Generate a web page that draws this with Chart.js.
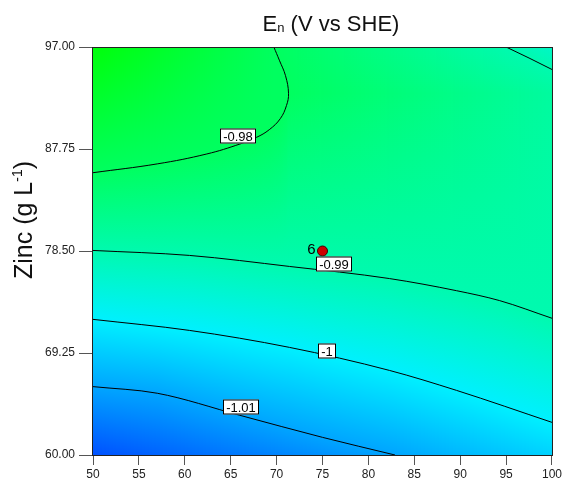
<!DOCTYPE html>
<html>
<head>
<meta charset="utf-8">
<script src="https://cdn.jsdelivr.net/npm/chart.js@4"></script>
<style>
    body { margin: 0; background: #fff; }
</style>
</head>
<body>
<canvas id="wykres" width="564" height="484"></canvas>
<script>
// Osie
const xTicks = [50, 55, 60, 65, 70, 75, 80, 85, 90, 95, 100];
const yTicks = [60.00, 69.25, 78.50, 87.75, 97.00];

// Linie konturowe
const c098x = [69.7, 70.3, 70.97, 71.3, 71.08, 70.4, 69.2, 67.8, 66.0, 62.4, 57.0, 50.0];
const c098y = [97.0, 95.8, 94.4, 92.8, 91.7, 90.5, 89.5, 88.8, 88.2, 87.3, 86.4, 85.6];
const c099x = [50.0, 60.5, 71.4, 82.3, 89.6, 94.3, 100.0];
const c099y = [78.55, 78.1, 77.1, 76.0, 74.9, 74.0, 72.4];
const c099bx = [95.0, 97.5, 100.0];
const c099by = [97.0, 96.0, 94.96];
const c100x = [50.0, 60.5, 71.4, 82.3, 89.6, 100.0];
const c100y = [72.3, 71.3, 69.76, 67.67, 65.86, 62.96];
const c101x = [50.0, 57.0, 66.0, 75.0, 82.9];
const c101y = [66.2, 65.6, 63.6, 61.6, 60.0];

// Etykiety konturow
const labelText = ['-0.98', '-0.99', '-1', '-1.01'];
const labelX = [65.8, 76.25, 75.5, 66.1];
const labelY = [88.93, 77.33, 69.44, 64.36];

// Punkt doswiadczalny
const designX = [75];
const designY = [78.5];
const designLabel = ['6'];

// Wartosci na krawedziach (do kolorowania tla)
const topEdgeX = [50, 69.7, 95, 100];
const topEdgeV = [-0.972, -0.98, -0.99, -0.993];
const bottomEdgeX = [50, 82.9, 100];
const bottomEdgeV = [-1.022, -1.01, -1.004];
const ridgeX = [71.3, 100];
const ridgeY = [92.8, 92.8];
const ridgeV = [-0.98, -0.988];

// Skala kolorow
const cmapV = [-1.025, -1.01, -1.0, -0.99, -0.98, -0.972];
const cmapRGB = [[0, 60, 255], [0, 165, 255], [0, 240, 255], [0, 250, 175], [0, 255, 95], [0, 255, 10]];

const kontury = [
    { level: -0.98, x: c098x, y: c098y },
    { level: -0.99, x: c099x, y: c099y },
    { level: -0.99, x: c099bx, y: c099by },
    { level: -1.00, x: c100x, y: c100y },
    { level: -1.01, x: c101x, y: c101y }
];

function interp(xs, vs, x) {
    if (x <= xs[0]) return vs[0];
    for (let i = 0; i < xs.length - 1; i++) {
        if (x <= xs[i + 1]) {
            const t = (x - xs[i]) / (xs[i + 1] - xs[i]);
            return vs[i] + t * (vs[i + 1] - vs[i]);
        }
    }
    return vs[vs.length - 1];
}

function colorOf(v) {
    let c;
    if (v <= cmapV[0]) c = cmapRGB[0];
    else if (v >= cmapV[cmapV.length - 1]) c = cmapRGB[cmapRGB.length - 1];
    else {
        for (let i = 0; i < cmapV.length - 1; i++) {
            if (v <= cmapV[i + 1]) {
                const t = (v - cmapV[i]) / (cmapV[i + 1] - cmapV[i]);
                c = cmapRGB[i].map((k, j) => Math.round(k + t * (cmapRGB[i + 1][j] - k)));
                break;
            }
        }
    }
    return `rgb(${c[0]},${c[1]},${c[2]})`;
}

function crossings(xs, ys, x) {
    const out = [];
    for (let i = 0; i < xs.length - 1; i++) {
        const x0 = xs[i], x1 = xs[i + 1];
        if (x0 !== x1 && x >= Math.min(x0, x1) && x <= Math.max(x0, x1)) {
            const t = (x - x0) / (x1 - x0);
            out.push(ys[i] + t * (ys[i + 1] - ys[i]));
        }
    }
    return out;
}

// Tlo - gradient w kazdej kolumnie, przejscia na liniach konturowych
const tloPlugin = {
    id: 'tlo',
    beforeDatasetsDraw(chart) {
        const { ctx, chartArea: a, scales: { x, y } } = chart;
        ctx.save();
        ctx.beginPath();
        ctx.rect(a.left, a.top, a.right - a.left, a.bottom - a.top);
        ctx.clip();
        for (let px = a.left; px < a.right; px++) {
            const xv = x.getValueForPixel(px + 0.5);
            const stops = [[97, interp(topEdgeX, topEdgeV, xv)], [60, interp(bottomEdgeX, bottomEdgeV, xv)]];
            kontury.forEach(k => crossings(k.x, k.y, xv).forEach(yy => stops.push([yy, k.level])));
            if (xv > ridgeX[0]) stops.push([interp(ridgeX, ridgeY, xv), interp(ridgeX, ridgeV, xv)]);
            stops.sort((p, q) => q[0] - p[0]);
            const g = ctx.createLinearGradient(0, a.top, 0, a.bottom);
            stops.forEach(([yy, v]) => {
                const off = Math.min(1, Math.max(0, (y.getPixelForValue(yy) - a.top) / (a.bottom - a.top)));
                g.addColorStop(off, colorOf(v));
            });
            ctx.fillStyle = g;
            ctx.fillRect(px, a.top, 1.5, a.bottom - a.top);
        }
        ctx.restore();
    }
};

// Etykiety konturow, ramka, tytuly
const opisyPlugin = {
    id: 'opisy',
    afterDatasetsDraw(chart) {
        const { ctx, scales: { x, y } } = chart;
        ctx.save();
        ctx.font = '13px Arial, "Liberation Sans"';
        ctx.textAlign = 'center';
        ctx.textBaseline = 'middle';
        labelText.forEach((t, i) => {
            const px = Math.round(x.getPixelForValue(labelX[i]));
            const py = Math.round(y.getPixelForValue(labelY[i]));
            const w = Math.round(ctx.measureText(t).width) + 6;
            const h = 15;
            ctx.fillStyle = '#fff';
            ctx.fillRect(px - w / 2, py - h / 2, w, h);
            ctx.strokeStyle = '#000';
            ctx.lineWidth = 1;
            ctx.strokeRect(px - w / 2 + 0.5, py - h / 2 + 0.5, w - 1, h - 1);
            ctx.fillStyle = '#000';
            ctx.fillText(t, px, py + 1);
        });
        ctx.font = '15px Arial, "Liberation Sans"';
        ctx.textAlign = 'right';
        designLabel.forEach((t, i) => {
            ctx.fillText(t, x.getPixelForValue(designX[i]) - 7, y.getPixelForValue(designY[i]) - 1);
        });
        ctx.restore();
    },
    afterDraw(chart) {
        const { ctx, chartArea: a } = chart;
        ctx.save();
        ctx.strokeStyle = '#222';
        ctx.lineWidth = 1;
        ctx.strokeRect(a.left - 0.5, a.top + 0.5, a.right - a.left + 1, a.bottom - a.top);

        // tytul: E z indeksem n
        ctx.fillStyle = '#111';
        ctx.textBaseline = 'alphabetic';
        ctx.textAlign = 'left';
        const f1 = '22px Arial, "Liberation Sans"', f2 = '13px Arial, "Liberation Sans"';
        ctx.font = f1; const wE = ctx.measureText('E').width;
        const reszta = ' (V vs SHE)'; const wR = ctx.measureText(reszta).width;
        ctx.font = f2; const wn = ctx.measureText('n').width;
        let tx = 331 - (wE + wn + wR) / 2;
        ctx.font = f1; ctx.fillText('E', tx, 31); tx += wE;
        ctx.font = f2; ctx.fillText('n', tx, 32); tx += wn;
        ctx.font = f1; ctx.fillText(reszta, tx, 31);

        // tytul osi Y
        ctx.translate(32, 220);
        ctx.rotate(-Math.PI / 2);
        const g1 = '25px Arial, "Liberation Sans"', g2 = '14px Arial, "Liberation Sans"';
        ctx.font = g1; const a1 = ctx.measureText('Zinc (g L').width, a3 = ctx.measureText(')').width;
        ctx.font = g2; const a2 = ctx.measureText('-1').width;
        let sx = -(a1 + a2 + a3) / 2;
        ctx.font = g1; ctx.fillText('Zinc (g L', sx, 0); sx += a1;
        ctx.font = g2; ctx.fillText('-1', sx, -10); sx += a2;
        ctx.font = g1; ctx.fillText(')', sx, 0);
        ctx.restore();
    }
};

const linia = (xs, ys, tryb) => ({
    data: xs.map((v, i) => ({ x: v, y: ys[i] })),
    showLine: true,
    borderColor: '#000',
    borderWidth: 1,
    pointRadius: 0,
    tension: 0.4,
    cubicInterpolationMode: tryb || 'default',
    fill: false
});

const ctx = document.getElementById('wykres').getContext('2d');
const chart = new Chart(ctx, {
    type: 'scatter',
    data: {
        datasets: [
            linia(c098x, c098y),
            linia(c099x, c099y, 'monotone'),
            linia(c099bx, c099by, 'monotone'),
            linia(c100x, c100y, 'monotone'),
            linia(c101x, c101y, 'monotone'),
            {
                data: designX.map((v, i) => ({ x: v, y: designY[i] })),
                pointRadius: 5,
                backgroundColor: '#cc0000',
                borderColor: '#400000',
                borderWidth: 1
            }
        ]
    },
    options: {
        responsive: false,
        animation: false,
        layout: { padding: { top: 47, right: 11, left: 0, bottom: 0 } },
        plugins: {
            legend: { display: false },
            tooltip: { enabled: false },
            title: { display: false }
        },
        scales: {
            x: {
                type: 'linear',
                min: 50,
                max: 100,
                afterBuildTicks: s => { s.ticks = xTicks.map(v => ({ value: v })); },
                afterFit: s => { s.height = 29; },
                ticks: {
                    font: { family: 'Arial, "Liberation Sans"', size: 12 },
                    color: '#222',
                    padding: 2,
                    maxRotation: 0,
                    autoSkip: false
                },
                grid: { drawOnChartArea: false, tickLength: 10, color: '#555' },
                border: { color: '#222' }
            },
            y: {
                type: 'linear',
                min: 60,
                max: 97,
                afterBuildTicks: s => { s.ticks = yTicks.map(v => ({ value: v })); },
                afterFit: s => { s.width = 93; },
                ticks: {
                    font: { family: 'Arial, "Liberation Sans"', size: 12 },
                    color: '#222',
                    padding: 4,
                    callback: v => v.toFixed(2)
                },
                grid: { drawOnChartArea: false, tickLength: 14, color: '#555' },
                border: { color: '#222' }
            }
        }
    },
    plugins: [tloPlugin, opisyPlugin]
});
</script>
</body>
</html>
